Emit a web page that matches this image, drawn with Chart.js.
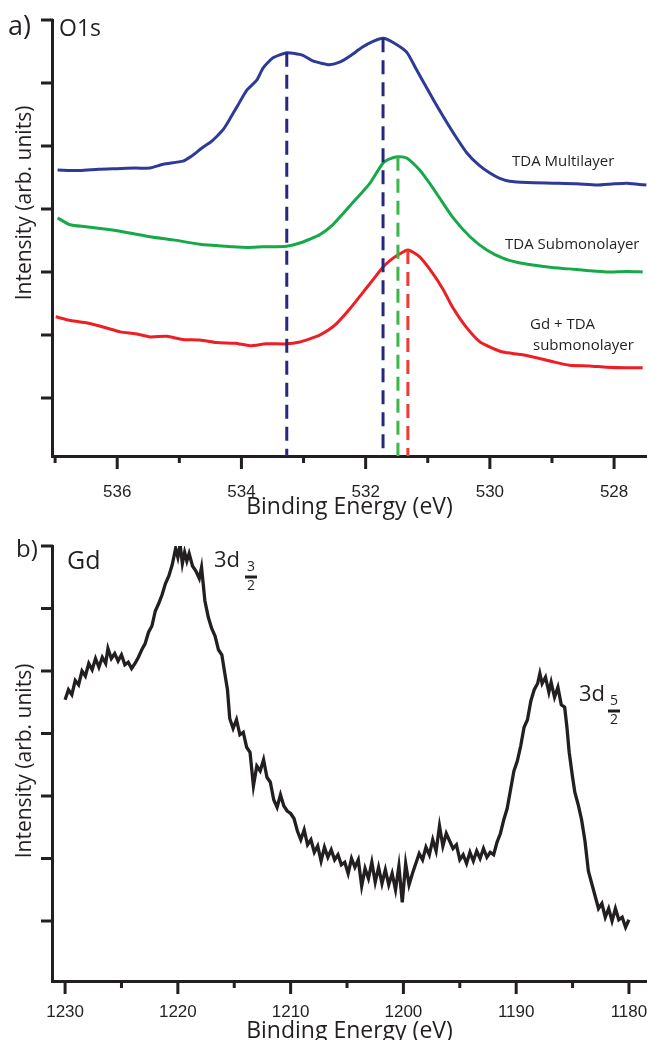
<!DOCTYPE html>
<html>
<head>
<meta charset="utf-8">
<script src="https://cdn.jsdelivr.net/npm/chart.js@4.4.1/dist/chart.umd.min.js"></script>
<style>
  body { margin: 0; background: #fff; }
  .panel { position: relative; width: 647px; height: 520px; }
</style>
</head>
<body>
<div class="panel"><canvas id="o1sChart"></canvas></div>
<div class="panel"><canvas id="gdChart"></canvas></div>
<script>
// ---- panel a) O1s ----
const o1sTicks = [537, 536, 535, 534, 533, 532, 531, 530, 529, 528];
const o1sLabelled = [536, 534, 532, 530, 528];
const intensityTicks = [1, 2, 3, 4, 5, 6, 7];

const multiEnergy = [536.96, 536.6, 536.3, 536.0, 535.7, 535.47, 535.26, 534.94, 534.8, 534.62,
  534.5, 534.39, 534.28, 534.18, 534.05, 533.91, 533.75, 533.65, 533.49, 533.27,
  533.1, 533.01, 532.85, 532.7, 532.58, 532.42, 532.25, 532.05, 531.88, 531.72,
  531.55, 531.34, 531.18, 530.97, 530.83, 530.69, 530.53, 530.37, 530.18, 530.0,
  529.85, 529.68, 529.4, 528.99, 528.6, 528.28, 528.0, 527.8, 527.6, 527.48];
const multiIntensity = [4.62, 4.61, 4.63, 4.64, 4.65, 4.65, 4.71, 4.76, 4.84, 4.98,
  5.06, 5.16, 5.28, 5.44, 5.66, 5.89, 6.05, 6.24, 6.40, 6.48,
  6.46, 6.44, 6.35, 6.31, 6.29, 6.33, 6.43, 6.57, 6.66, 6.71,
  6.64, 6.49, 6.21, 5.84, 5.60, 5.37, 5.12, 4.89, 4.70, 4.57,
  4.49, 4.44, 4.42, 4.41, 4.40, 4.38, 4.40, 4.41, 4.39, 4.38];

const subEnergy = [536.96, 536.76, 536.5, 536.11, 535.8, 535.47, 535.1, 534.67, 534.4, 534.14,
  533.9, 533.65, 533.27, 533.06, 532.9, 532.74, 532.53, 532.37, 532.21, 532.07,
  531.93, 531.72, 531.6, 531.48, 531.34, 531.13, 531.0, 530.86, 530.6, 530.32,
  530.05, 529.79, 529.55, 529.31, 529.0, 528.72, 528.4, 528.12, 527.8, 527.54];
const subIntensity = [3.86, 3.75, 3.72, 3.67, 3.62, 3.56, 3.51, 3.44, 3.42, 3.40,
  3.39, 3.40, 3.41, 3.46, 3.52, 3.59, 3.75, 3.92, 4.10, 4.25,
  4.41, 4.73, 4.80, 4.83, 4.81, 4.62, 4.45, 4.25, 3.87, 3.56,
  3.35, 3.22, 3.15, 3.11, 3.07, 3.05, 3.02, 3.00, 3.01, 3.00];

const gdTdaEnergy = [536.99, 536.75, 536.48, 536.2, 535.95, 535.7, 535.47, 535.2, 534.95, 534.67,
  534.4, 534.1, 533.86, 533.6, 533.27, 533.06, 532.9, 532.74, 532.6, 532.46,
  532.25, 532.05, 531.88, 531.72, 531.6, 531.48, 531.32, 531.13, 530.92, 530.75,
  530.6, 530.4, 530.16, 529.98, 529.79, 529.5, 529.25, 529.0, 528.72, 528.4,
  528.12, 527.8, 527.54];
const gdTdaIntensity = [2.29, 2.23, 2.19, 2.12, 2.05, 2.02, 1.97, 1.98, 1.93, 1.92,
  1.88, 1.87, 1.83, 1.86, 1.86, 1.89, 1.94, 2.00, 2.08, 2.19,
  2.42, 2.67, 2.88, 3.08, 3.19, 3.27, 3.35, 3.24, 2.98, 2.72,
  2.44, 2.15, 1.89, 1.80, 1.73, 1.69, 1.64, 1.58, 1.52, 1.51,
  1.49, 1.48, 1.48];

// peak positions marked with dashed lines
const multiPeakEnergy = [533.27, 531.72];
const multiPeakIntensity = [6.48, 6.71];
const subPeakEnergy = [531.48];
const subPeakIntensity = [4.83];
const gdTdaPeakEnergy = [531.32];
const gdTdaPeakIntensity = [3.35];

// ---- panel b) Gd 3d ----
const gdTicks = [1230, 1225, 1220, 1215, 1210, 1205, 1200, 1195, 1190, 1185, 1180];
const gdLabelled = [1230, 1220, 1210, 1200, 1190, 1180];

const gdEnergy = [
  1230.0, 1229.7, 1229.4, 1229.1, 1228.8, 1228.5, 1228.2, 1227.9, 1227.6, 1227.3,
  1227.0, 1226.7, 1226.4, 1226.2, 1225.9, 1225.6, 1225.3, 1225.0, 1224.7, 1224.4,
  1224.1, 1223.8, 1223.5, 1223.2, 1222.9, 1222.6, 1222.3, 1222.0, 1221.7, 1221.4,
  1221.1, 1220.8, 1220.5, 1220.2, 1220.0, 1219.8, 1219.6, 1219.4, 1219.2, 1219.0,
  1218.7, 1218.4, 1218.1, 1217.9, 1217.6, 1217.3, 1217.0, 1216.7, 1216.4, 1216.1,
  1215.8, 1215.6, 1215.4, 1215.1, 1214.8, 1214.5, 1214.2, 1213.9, 1213.6, 1213.3,
  1213.0, 1212.7, 1212.4, 1212.1, 1211.8, 1211.5, 1211.2, 1210.9, 1210.6, 1210.3,
  1210.0, 1209.7, 1209.4, 1209.1, 1208.8, 1208.5, 1208.2, 1207.9, 1207.6, 1207.3,
  1207.0, 1206.7, 1206.4, 1206.1, 1205.8, 1205.5, 1205.2, 1204.9, 1204.6, 1204.3,
  1204.0, 1203.7, 1203.4, 1203.1, 1202.8, 1202.5, 1202.2, 1201.9, 1201.6, 1201.3,
  1201.0, 1200.7, 1200.4, 1200.1, 1199.8, 1199.5, 1199.2, 1198.9, 1198.6, 1198.3,
  1198.0, 1197.7, 1197.4, 1197.1, 1196.8, 1196.5, 1196.2, 1195.9, 1195.6, 1195.3,
  1195.0, 1194.7, 1194.4, 1194.1, 1193.8, 1193.5, 1193.2, 1192.9, 1192.6, 1192.3,
  1192.0, 1191.7, 1191.4, 1191.1, 1190.8, 1190.5, 1190.2, 1189.9, 1189.6, 1189.3,
  1189.0, 1188.7, 1188.4, 1188.1, 1187.9, 1187.7, 1187.4, 1187.1, 1186.9, 1186.6,
  1186.3, 1186.0, 1185.7, 1185.5, 1185.3, 1185.0, 1184.8, 1184.5, 1184.2, 1183.9,
  1183.6, 1183.3, 1183.0, 1182.7, 1182.4, 1182.1, 1181.8, 1181.5, 1181.2, 1180.9,
  1180.6, 1180.3, 1180.0];
const gdIntensity = [
  4.54, 4.70, 4.62, 4.85, 4.78, 5.00, 4.92, 5.12, 5.02, 5.20,
  5.06, 5.22, 5.12, 5.36, 5.20, 5.28, 5.16, 5.26, 5.10, 5.14,
  5.04, 5.12, 5.22, 5.34, 5.44, 5.62, 5.72, 5.96, 6.08, 6.22,
  6.40, 6.52, 6.70, 6.96, 6.82, 7.02, 6.72, 6.90, 6.76, 6.88,
  6.68, 6.60, 6.48, 6.66, 6.12, 5.86, 5.68, 5.56, 5.34, 5.26,
  4.92, 4.70, 4.24, 4.08, 4.22, 3.98, 4.02, 3.78, 3.70, 3.16,
  3.48, 3.40, 3.58, 3.30, 3.22, 2.94, 2.82, 3.02, 2.84, 2.76,
  2.72, 2.64, 2.44, 2.30, 2.46, 2.22, 2.30, 2.10, 2.20, 1.96,
  2.18, 2.02, 2.14, 1.98, 2.06, 1.90, 1.94, 1.76, 2.00, 1.86,
  1.98, 1.56, 1.84, 1.68, 1.94, 1.62, 1.86, 1.60, 1.82, 1.58,
  1.76, 1.50, 1.88, 1.30, 1.92, 1.58, 1.76, 1.92, 2.08, 1.98,
  2.18, 2.06, 2.30, 2.12, 2.52, 2.20, 2.40, 2.28, 2.16, 2.22,
  1.98, 2.06, 1.92, 2.10, 1.96, 2.12, 2.00, 2.16, 2.02, 2.10,
  2.06, 2.26, 2.40, 2.62, 2.80, 3.10, 3.40, 3.56, 3.80, 4.10,
  4.22, 4.52, 4.70, 4.80, 4.96, 4.80, 4.90, 4.66, 4.82, 4.58,
  4.74, 4.46, 4.42, 4.10, 3.70, 3.30, 3.06, 2.86, 2.62, 2.28,
  1.80, 1.60, 1.40, 1.20, 1.28, 1.06, 1.20, 1.00, 1.20, 1.02,
  1.06, 0.90, 1.02];

const ink = '#231f20';
const pair = (xs, ys) => xs.map((x, i) => ({ x: x, y: ys[i] }));

// draws the outward axis tick marks (long on labelled ticks, short otherwise)
const tickMarks = {
  id: 'tickMarks',
  afterDraw(chart, args, opts) {
    const ctx = chart.ctx, area = chart.chartArea;
    const xs = chart.scales.x, ys = chart.scales.y;
    ctx.save();
    ctx.strokeStyle = ink;
    ctx.lineWidth = 3;
    ctx.beginPath();
    xs.ticks.forEach(t => {
      const px = xs.getPixelForValue(t.value);
      const len = opts.major.includes(t.value) ? 13 : 7;
      ctx.moveTo(px, area.bottom);
      ctx.lineTo(px, area.bottom + len);
    });
    ys.ticks.forEach(t => {
      const py = ys.getPixelForValue(t.value);
      ctx.moveTo(area.left + 1, py);
      ctx.lineTo(area.left - 11, py);
    });
    ctx.stroke();
    ctx.restore();
  }
};

// free text: panel letters, series names, y title, peak labels
const notes = {
  id: 'notes',
  afterDraw(chart, args, opts) {
    const ctx = chart.ctx;
    ctx.save();
    ctx.fillStyle = ink;
    ctx.textBaseline = 'middle';
    opts.items.forEach(n => {
      ctx.font = (n.size || 14) + 'px "Open Sans", sans-serif';
      ctx.textAlign = n.align || 'left';
      if (n.rotate) {
        ctx.save();
        ctx.translate(n.x, n.y);
        ctx.rotate(-Math.PI / 2);
        ctx.textAlign = 'center';
        ctx.fillText(n.text, 0, 0);
        ctx.restore();
      } else {
        ctx.fillText(n.text, n.x, n.y);
      }
    });
    (opts.fractions || []).forEach(f => {
      ctx.font = '14px "Open Sans", sans-serif';
      ctx.textAlign = 'center';
      ctx.fillText(f.num, f.x, f.y - 10);
      ctx.fillText('2', f.x, f.y + 9);
      ctx.fillRect(f.x - 6, f.y - 1.5, 12, 3);
    });
    ctx.restore();
  }
};

function dashedPeaks(energies, heights, yMin, color) {
  return energies.map((e, i) => ({
    data: [{ x: e, y: heights[i] }, { x: e, y: yMin }],
    borderColor: color,
    borderWidth: 3,
    borderDash: [14, 8],
    pointRadius: 0,
    tension: 0
  }));
}

function baseOptions(xMin, xMax, yMin, xTicks, labelled, padTop, axisHeight, labelPad, titlePad) {
  return {
    responsive: true,
    maintainAspectRatio: false,
    animation: false,
    events: [],
    layout: { padding: { top: padTop, left: 0, right: 0, bottom: 0 } },
    scales: {
      x: {
        type: 'linear',
        reverse: true,
        min: xMin,
        max: xMax,
        afterBuildTicks: s => { s.ticks = xTicks.map(v => ({ value: v })); },
        afterFit: s => { s.height = axisHeight; s.paddingLeft = 0; s.paddingRight = 0; },
        grid: { display: false, drawTicks: false },
        border: { display: true, color: ink, width: 3 },
        ticks: {
          autoSkip: false,
          maxRotation: 0,
          padding: labelPad,
          color: ink,
          font: { family: '"Liberation Sans", Arial, sans-serif', size: 17 },
          callback: v => labelled.includes(v) ? String(v) : ''
        },
        title: {
          display: true,
          text: 'Binding Energy (eV)',
          color: ink,
          font: { family: '"Open Sans", sans-serif', size: 23 },
          padding: { top: 0, bottom: titlePad }
        }
      },
      y: {
        type: 'linear',
        min: yMin,
        max: 7,
        afterBuildTicks: s => { s.ticks = intensityTicks.map(v => ({ value: v })); },
        afterFit: s => { s.width = 52; s.paddingTop = 0; s.paddingBottom = 0; },
        grid: { display: false, drawTicks: false },
        border: { display: true, color: ink, width: 3 },
        ticks: { display: false }
      }
    },
    plugins: { legend: { display: false }, tooltip: { enabled: false } }
  };
}

// ---- chart a ----
const yMinA = 0.08;
const optsA = baseOptions(527.47, 537.05, yMinA, o1sTicks, o1sLabelled, 20, 64, 26, -1);
optsA.plugins.tickMarks = { major: o1sLabelled };
optsA.plugins.notes = {
  items: [
    { text: 'a)', x: 8, y: 27, size: 27 },
    { text: 'O1s', x: 59, y: 29, size: 23 },
    { text: 'TDA Multilayer', x: 512, y: 162, size: 15 },
    { text: 'TDA Submonolayer', x: 505, y: 245, size: 15 },
    { text: 'Gd + TDA', x: 530, y: 325, size: 15 },
    { text: 'submonolayer', x: 533, y: 346, size: 15 },
    { text: 'Intensity (arb. units)', x: 25, y: 203, size: 21, rotate: true }
  ]
};

new Chart(document.getElementById('o1sChart'), {
  type: 'line',
  data: {
    datasets: [
      ...dashedPeaks(multiPeakEnergy, multiPeakIntensity, yMinA, '#27277f'),
      ...dashedPeaks(subPeakEnergy, subPeakIntensity, yMinA, '#3cb54a'),
      ...dashedPeaks(gdTdaPeakEnergy, gdTdaPeakIntensity, yMinA, '#ee3b34'),
      { label: 'TDA Multilayer', data: pair(multiEnergy, multiIntensity), borderColor: '#2d3a98', borderWidth: 3, pointRadius: 0, tension: 0.2 },
      { label: 'TDA Submonolayer', data: pair(subEnergy, subIntensity), borderColor: '#17a84a', borderWidth: 3, pointRadius: 0, tension: 0.2 },
      { label: 'Gd + TDA submonolayer', data: pair(gdTdaEnergy, gdTdaIntensity), borderColor: '#ed1f24', borderWidth: 3, pointRadius: 0, tension: 0.2 }
    ]
  },
  options: optsA,
  plugins: [tickMarks, notes]
});

// ---- chart b ----
const yMinB = 0.04;
const optsB = baseOptions(1178.4, 1231.16, yMinB, gdTicks, gdLabelled, 26, 59, 21, -5);
optsB.plugins.tickMarks = { major: gdLabelled };
optsB.plugins.notes = {
  items: [
    { text: 'b)', x: 16, y: 30, size: 24 },
    { text: 'Gd', x: 67, y: 42, size: 25 },
    { text: '3d', x: 214, y: 41, size: 22 },
    { text: '3d', x: 579, y: 175, size: 22 },
    { text: 'Intensity (arb. units)', x: 25, y: 241, size: 21, rotate: true }
  ],
  fractions: [
    { num: '3', x: 251, y: 57 },
    { num: '5', x: 614, y: 191 }
  ]
};

new Chart(document.getElementById('gdChart'), {
  type: 'line',
  data: {
    datasets: [
      { label: 'Gd 3d', data: pair(gdEnergy, gdIntensity), borderColor: ink, borderWidth: 3.3, pointRadius: 0, tension: 0 }
    ]
  },
  options: optsB,
  plugins: [tickMarks, notes]
});
</script>
</body>
</html>
